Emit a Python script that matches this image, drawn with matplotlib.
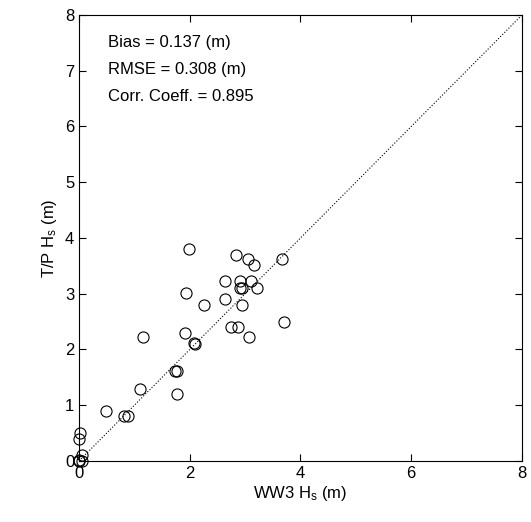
import matplotlib
matplotlib.use("Agg")
import matplotlib.pyplot as plt

ww3_hs = [1.98, 2.84, 3.06, 3.16, 3.67, 2.64, 2.91, 3.10, 1.94, 2.90, 2.94, 3.21,
          2.63, 2.25, 2.94, 3.70, 2.75, 2.87, 3.07, 1.92, 2.08, 2.09, 1.16, 1.74,
          1.77, 1.77, 1.10, 0.49, 0.81, 0.88, 0.02, 0.0, 0.05, 0.0, 0.06, 0.0]
tp_hs = [3.80, 3.70, 3.62, 3.51, 3.62, 3.22, 3.23, 3.23, 3.01, 3.11, 3.11, 3.11,
         2.91, 2.80, 2.80, 2.50, 2.41, 2.41, 2.22, 2.30, 2.11, 2.10, 2.22, 1.61,
         1.61, 1.21, 1.30, 0.90, 0.80, 0.80, 0.51, 0.40, 0.11, 0.02, 0.0, 0.0]
stats_text = ["Bias = 0.137 (m)", "RMSE = 0.308 (m)", "Corr. Coeff. = 0.895"]

plt.rcParams['font.family'] = ['Liberation Sans', 'DejaVu Sans']
plt.rcParams['mathtext.default'] = 'regular'

fig = plt.figure(figsize=(5.31, 5.22), dpi=100)
ax = fig.add_axes([0.1488, 0.1169, 0.8342, 0.8544])

ax.plot([0, 8], [0, 8], color='black', linestyle=':', linewidth=0.8)
ax.plot(ww3_hs, tp_hs, 'o', markerfacecolor='none', markeredgecolor='black',
        markersize=8, markeredgewidth=0.8, clip_on=False, zorder=3)

ax.set_xlim(0, 8)
ax.set_ylim(0, 8)
ax.set_xticks([0, 2, 4, 6, 8])
ax.set_yticks(range(0, 9))
ax.tick_params(direction='in', top=True, right=True, labelsize=12, length=5)
ax.set_xlabel("WW3 H$_s$ (m)", fontsize=12, labelpad=2)
ax.set_ylabel("T/P H$_s$ (m)", fontsize=12, labelpad=4)

for i, line in enumerate(stats_text):
    ax.text(0.52, 7.50 - i * 0.485, line, fontsize=12, va='center', ha='left')

fig.savefig("out.png", dpi=100)
